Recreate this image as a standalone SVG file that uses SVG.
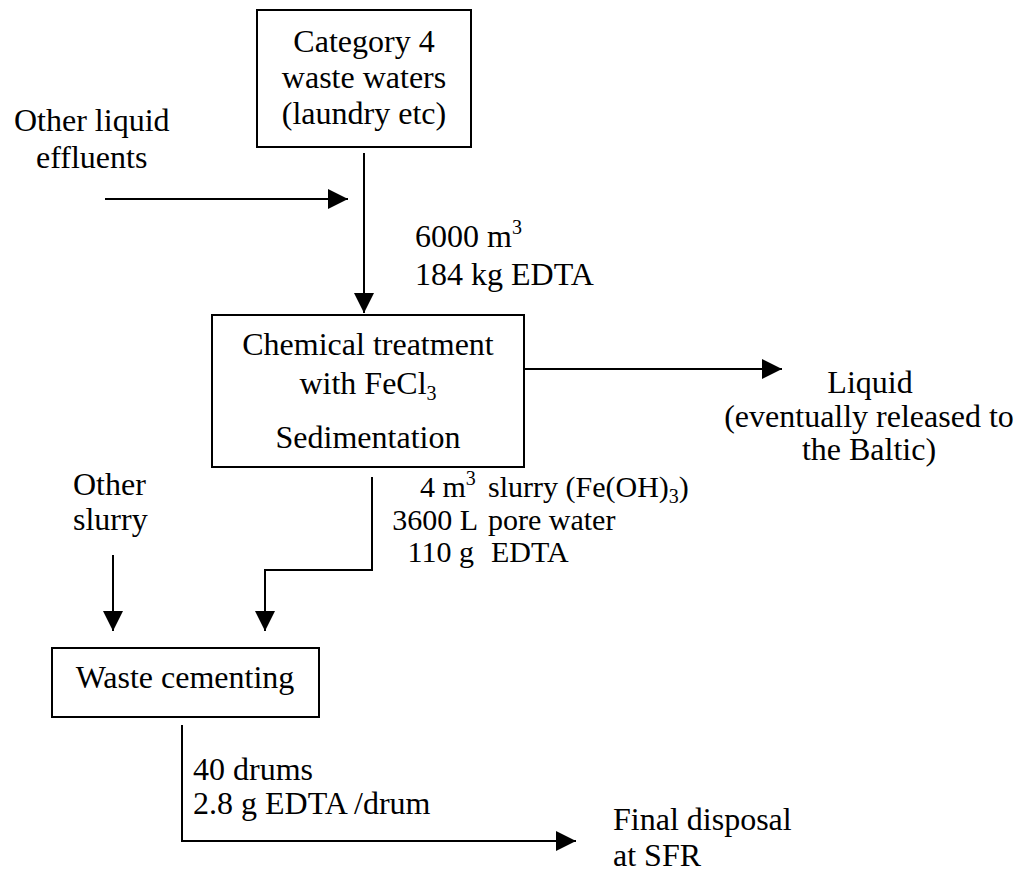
<svg xmlns="http://www.w3.org/2000/svg" width="1028" height="874" viewBox="0 0 1028 874">
<style>
text { font-family: "Liberation Serif", Tinos, "Times New Roman", Times, "DejaVu Serif", serif; font-size: 32px; fill: #000; }
.c { text-anchor: middle; }
.e { text-anchor: end; }
.t30 { font-size: 30px; }
.box { fill: #fff; stroke: #000; stroke-width: 2; }
.ln { fill: none; stroke: #000; stroke-width: 2; }
.sm { font-size: 20px; }
</style>
<defs>
<marker id="arr" markerUnits="userSpaceOnUse" markerWidth="20" markerHeight="20" refX="20" refY="10" orient="auto" viewBox="0 0 20 20">
<path d="M0,0 L20,10 L0,20 z" fill="#000"/>
</marker>
</defs>
<rect width="1028" height="874" fill="#fff"/>
<g id="connectors">
<line class="ln" x1="105" y1="199" x2="348" y2="199" marker-end="url(#arr)"/>
<line class="ln" x1="364" y1="153" x2="364" y2="313" marker-end="url(#arr)"/>
<line class="ln" x1="524" y1="369" x2="782" y2="369" marker-end="url(#arr)"/>
<polyline class="ln" points="372,477 372,570 265,570 265,631" marker-end="url(#arr)"/>
<line class="ln" x1="113" y1="555" x2="113" y2="631" marker-end="url(#arr)"/>
<polyline class="ln" points="182,725 182,841 576,841" marker-end="url(#arr)"/>
</g>
<g id="category4">
<rect class="box" x="257" y="10" width="214" height="137"/>
<text class="c" x="364" y="52">Category 4</text>
<text class="c" x="364" y="88">waste waters</text>
<text class="c" x="364" y="124">(laundry etc)</text>
</g>
<g id="other-liquid">
<text x="14" y="131">Other liquid</text>
<text x="36" y="168">effluents</text>
</g>
<g id="flow1-label">
<text x="415" y="247">6000 m<tspan class="sm" dy="-13">3</tspan></text>
<text x="415" y="285">184 kg EDTA</text>
</g>
<g id="chemical">
<rect class="box" x="212" y="315" width="312" height="152"/>
<text class="c" x="368" y="355">Chemical treatment</text>
<text class="c" x="368" y="394">with FeCl<tspan class="sm" dy="6">3</tspan></text>
<text class="c" x="368" y="448">Sedimentation</text>
</g>
<g id="liquid">
<text class="c" x="870" y="393">Liquid</text>
<text class="c" x="869" y="427">(eventually released to</text>
<text class="c" x="869" y="460">the Baltic)</text>
</g>
<g id="slurry-label">
<text class="t30" x="420" y="497">4 m<tspan class="sm" dy="-12">3</tspan></text>
<text class="t30" x="488" y="497">slurry (Fe(OH)<tspan class="sm" dy="6">3</tspan><tspan dy="-6">)</tspan></text>
<text class="t30 e" x="478" y="530">3600 L</text>
<text class="t30" x="488" y="530">pore water</text>
<text class="t30 e" x="474" y="562">110 g</text>
<text class="t30" x="491" y="562">EDTA</text>
</g>
<g id="other-slurry">
<text x="73" y="495">Other</text>
<text x="73" y="530">slurry</text>
</g>
<g id="cementing">
<rect class="box" x="52" y="648" width="267" height="69"/>
<text class="c" x="185" y="688">Waste cementing</text>
</g>
<g id="drums-label">
<text x="193" y="780">40 drums</text>
<text x="193" y="814">2.8 g EDTA /drum</text>
</g>
<g id="final">
<text x="613" y="830">Final disposal</text>
<text x="613" y="866">at SFR</text>
</g>
</svg>
